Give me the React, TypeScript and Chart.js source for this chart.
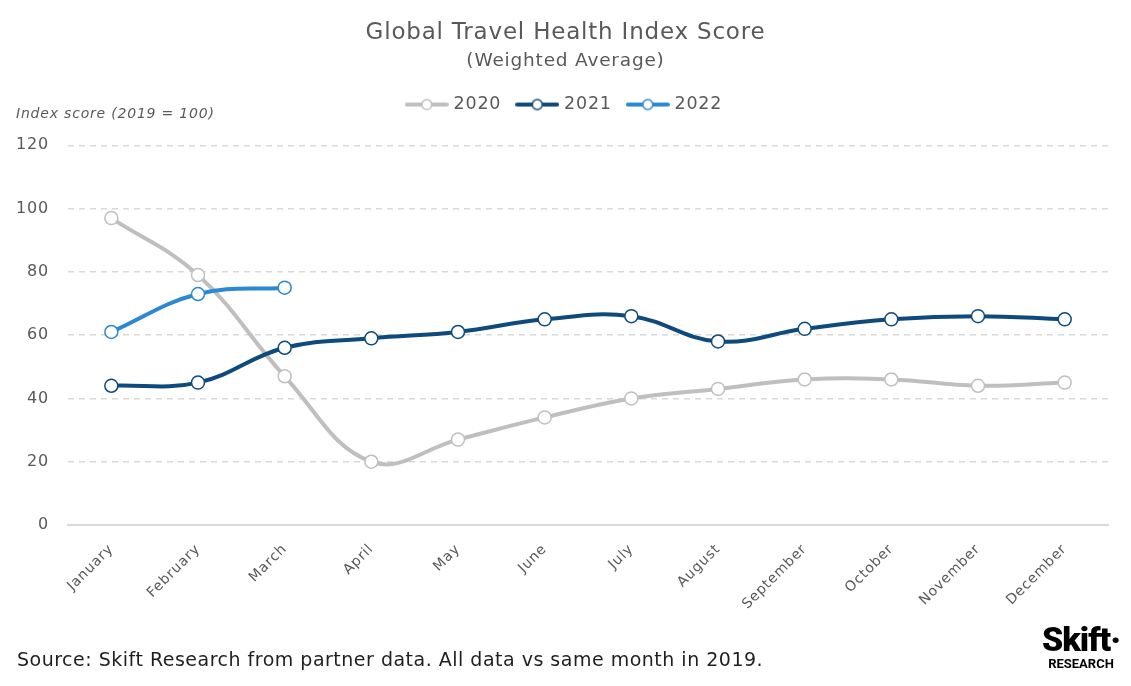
import React, { useEffect, useRef } from "react";
import { Chart, registerables } from "chart.js";

Chart.register(...registerables);

// chart data
const months = [
  "January", "February", "March", "April", "May", "June",
  "July", "August", "September", "October", "November", "December",
];
const seriesNames = ["2020", "2021", "2022"];
const score2020 = [97, 79, 47, 20, 27, 34, 40, 43, 46, 46, 44, 45];
const score2021 = [44, 45, 56, 59, 61, 65, 66, 58, 62, 65, 66, 65];
const score2022 = [61, 73, 75];
const yTicks = [0, 20, 40, 60, 80, 100, 120];

const titleText = "Global Travel Health Index Score";
const subtitleText = "(Weighted Average)";
const yAxisText = "Index score (2019 = 100)";
const sourceText = "Source: Skift Research from partner data. All data vs same month in 2019.";

const FONT = "'DejaVu Sans', sans-serif";
const TEXT = "#595959";
const COLORS = ["#BFBFBF", "#0E4A7B", "#2B88D3"];

function legendIcon(color: string) {
  const c = document.createElement("canvas");
  c.width = 44;
  c.height = 14;
  const ctx = c.getContext("2d")!;
  ctx.strokeStyle = color;
  ctx.lineWidth = 4;
  ctx.lineCap = "round";
  ctx.beginPath();
  ctx.moveTo(2, 7);
  ctx.lineTo(42, 7);
  ctx.stroke();
  ctx.fillStyle = "#fff";
  ctx.lineWidth = 1.5;
  ctx.beginPath();
  ctx.arc(22, 7, 5, 0, Math.PI * 2);
  ctx.fill();
  ctx.stroke();
  return c;
}

// the original font is wide; space the letters a little
const spacing = {
  id: "spacing",
  beforeUpdate(chart: any) {
    chart.ctx.letterSpacing = "0.8px";
  },
  beforeDraw(chart: any) {
    chart.ctx.letterSpacing = "0.8px";
  },
};

// extra room under the legend for the axis caption
const legendGap = {
  id: "legendGap",
  afterInit(chart: any) {
    const lg = chart.legend;
    if (!lg) return;
    const fit = lg.fit;
    lg.fit = function () {
      fit.call(this);
      this.height += 22;
    };
  },
};

const yCaption = {
  id: "yCaption",
  afterDraw(chart: any) {
    const { ctx, chartArea } = chart;
    ctx.save();
    ctx.font = `italic 14px ${FONT}`;
    ctx.fillStyle = TEXT;
    ctx.textBaseline = "middle";
    ctx.textAlign = "left";
    ctx.fillText(yAxisText, 16, chartArea.top - 31);
    ctx.restore();
  },
};

function TravelChart() {
  const canvasRef = useRef<HTMLCanvasElement>(null);
  const chartRef = useRef<Chart | null>(null);

  useEffect(() => {
    if (!canvasRef.current) return;
    if (chartRef.current) chartRef.current.destroy();

    const lineSet = (label: string, data: number[], color: string, order: number) => ({
      label,
      data,
      borderColor: color,
      backgroundColor: "#fff",
      borderWidth: 4,
      tension: 0.4,
      pointRadius: 6.5,
      pointHoverRadius: 6.5,
      pointBackgroundColor: "#fff",
      pointBorderColor: color,
      pointBorderWidth: 1.5,
      order,
    });

    chartRef.current = new Chart(canvasRef.current, {
      type: "line",
      data: {
        labels: months,
        datasets: [
          lineSet(seriesNames[0], score2020, COLORS[0], 3),
          lineSet(seriesNames[1], score2021, COLORS[1], 2),
          lineSet(seriesNames[2], score2022, COLORS[2], 1),
        ],
      },
      options: {
        responsive: true,
        maintainAspectRatio: false,
        animation: false,
        layout: { padding: { left: 0, right: 0, top: 0, bottom: 61 } },
        plugins: {
          title: {
            display: true,
            text: titleText,
            color: TEXT,
            font: { family: FONT, size: 23, weight: "normal" },
            padding: { top: 19, bottom: 0 },
          },
          subtitle: {
            display: true,
            text: subtitleText,
            color: TEXT,
            font: { family: FONT, size: 18.5, weight: "normal" },
            padding: { top: 3, bottom: 6 },
          },
          legend: {
            display: true,
            labels: {
              color: TEXT,
              font: { family: FONT, size: 17.5 },
              usePointStyle: true,
              pointStyleWidth: 36,
              padding: 18,
              generateLabels: (chart: any) =>
                chart.data.datasets.map((ds: any, i: number) => ({
                  text: ds.label,
                  fontColor: TEXT,
                  pointStyle: legendIcon(COLORS[i]),
                  strokeStyle: COLORS[i],
                  fillStyle: "#fff",
                  lineWidth: 0,
                  hidden: false,
                  datasetIndex: i,
                })),
            },
          },
          tooltip: { enabled: false },
        },
        scales: {
          x: {
            offset: true,
            grid: { display: false },
            border: { display: true, color: "#D9D9D9", width: 2 },
            ticks: {
              color: TEXT,
              font: { family: FONT, size: 14 },
              maxRotation: 45,
              minRotation: 45,
              padding: 8,
            },
            afterFit: (s: any) => {
              s.height = 100;
            },
          },
          y: {
            min: yTicks[0],
            max: yTicks[yTicks.length - 1],
            ticks: {
              stepSize: yTicks[1] - yTicks[0],
              color: TEXT,
              font: { family: FONT, size: 16 },
              padding: 19,
            },
            grid: { color: "#D9D9D9", lineWidth: 1.5, drawTicks: false },
            border: { display: false, dash: [6, 5] },
            afterFit: (s: any) => {
              s.width = 68;
            },
          },
          // empty right-hand strip so the plot ends where the original does
          yRight: {
            position: "right",
            min: yTicks[0],
            max: yTicks[yTicks.length - 1],
            grid: { display: false, drawTicks: false },
            border: { display: false },
            ticks: { display: false },
            afterFit: (s: any) => {
              s.width = 23;
            },
          },
        },
      },
      plugins: [spacing, legendGap, yCaption],
    } as any);

    return () => chartRef.current?.destroy();
  }, []);

  return (
    <div style={{ position: "relative", width: 1131, height: 686, background: "#fff" }}>
      <canvas ref={canvasRef} />
      <div
        style={{
          position: "absolute",
          left: 17,
          top: 648,
          fontFamily: FONT,
          fontSize: 19,
          letterSpacing: 0.5,
          color: "#1f1f1f",
          whiteSpace: "nowrap",
        }}
      >
        {sourceText}
      </div>
      <div
        style={{
          position: "absolute",
          left: 1040,
          top: 622,
          width: 82,
          textAlign: "center",
          fontFamily: "'Liberation Sans Narrow', 'Roboto', sans-serif",
          color: "#000",
          lineHeight: 1,
        }}
      >
        <div style={{ fontSize: 34, fontWeight: 900, letterSpacing: -1 }}>Skift·</div>
        <div style={{ fontSize: 13, fontWeight: 700, marginTop: 1 }}>RESEARCH</div>
      </div>
    </div>
  );
}

export default function App() {
  useEffect(() => {
    document.body.style.margin = "0";
  }, []);
  return <TravelChart />;
}
